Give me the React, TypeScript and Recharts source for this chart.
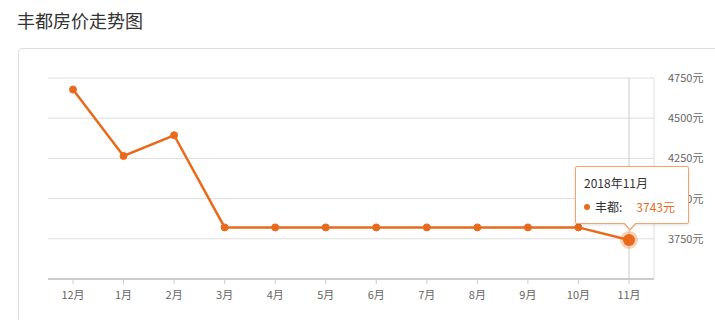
import React from 'react';
import { LineChart, Line, XAxis, YAxis, CartesianGrid, Tooltip } from 'recharts';

const months = ['12月', '1月', '2月', '3月', '4月', '5月', '6月', '7月', '8月', '9月', '10月', '11月'];
const fullLabels = ['2017年12月', '2018年1月', '2018年2月', '2018年3月', '2018年4月', '2018年5月', '2018年6月', '2018年7月', '2018年8月', '2018年9月', '2018年10月', '2018年11月'];
const prices = [4678, 4265, 4394, 3821, 3821, 3821, 3821, 3821, 3821, 3821, 3821, 3743];
const yTicks = [3750, 4000, 4250, 4500, 4750];
const seriesName = '丰都';
const title = '丰都房价走势图';

const data = months.map((m, i) => ({ month: m, full: fullLabels[i], price: prices[i] }));

const ORANGE = '#e96a1c';
const FONT = '"Noto Sans CJK SC", "Noto Sans", sans-serif';

const TipContent = (props: any) => {
  const { payload } = props;
  if (!payload || !payload.length) return null;
  const p = payload[0].payload;
  return (
    <div style={{ position: 'relative', width: 112, height: 56, background: '#fff', border: '1px solid #f0a56e', borderRadius: 2, boxShadow: '0 1px 3px rgba(0,0,0,0.12)', fontFamily: FONT, fontSize: 12, color: '#333', boxSizing: 'content-box' }}>
      <div style={{ position: 'absolute', left: 8, top: 8, lineHeight: '16px' }}>{p.full}</div>
      <div style={{ position: 'absolute', left: 8, top: 32, lineHeight: '16px', display: 'flex', alignItems: 'center' }}>
        <span style={{ display: 'inline-block', width: 6, height: 6, borderRadius: 3, background: ORANGE, marginRight: 5 }} />
        <span>{seriesName}:</span>
        <span style={{ color: ORANGE, marginLeft: 14 }}>{p.price}元</span>
      </div>
      <div style={{ position: 'absolute', left: 47, bottom: -8, width: 0, height: 0, borderLeft: '7px solid transparent', borderRight: '7px solid transparent', borderTop: '8px solid #f0a56e' }} />
      <div style={{ position: 'absolute', left: 48, bottom: -6, width: 0, height: 0, borderLeft: '6px solid transparent', borderRight: '6px solid transparent', borderTop: '7px solid #fff' }} />
    </div>
  );
};

export default function App() {
  return (
    <div style={{ position: 'absolute', left: 0, top: 0, width: 715, height: 320, overflow: 'hidden', background: '#fff' }}>
      <div style={{ position: 'absolute', left: 17, top: 8, fontFamily: FONT, fontSize: 18, color: '#333', lineHeight: '24px' }}>{title}</div>
      <div style={{ position: 'absolute', left: 18, top: 48, width: 740, height: 320, border: '1px solid #dedede', borderRadius: 4 }} />
      <div style={{ position: 'absolute', left: 0, top: 0 }}>
        <LineChart width={715} height={320} data={data} margin={{ top: 78, right: 6, bottom: 11, left: 48 }}>
          <CartesianGrid vertical={false} stroke="#dedede" />
          <XAxis
            dataKey="month"
            padding={{ left: 25, right: 25 }}
            axisLine={{ stroke: '#cccccc', strokeWidth: 2 }}
            tickLine={{ stroke: '#cccccc' }}
            tickSize={5}
            tickMargin={7}
            height={30}
            interval={0}
            tick={{ fill: '#666', fontSize: 11, fontFamily: FONT }}
          />
          <YAxis
            orientation="right"
            domain={[3500, 4750]}
            ticks={yTicks}
            width={55}
            axisLine={{ stroke: '#e0e0e0' }}
            tickLine={false}
            tickMargin={8}
            tickFormatter={(v: number) => `${v}元`}
            tick={{ fill: '#666', fontSize: 11, fontFamily: FONT }}
          />
          <Tooltip
            active
            defaultIndex={11}
            position={{ x: 575, y: 166 }}
            content={<TipContent />}
            cursor={{ stroke: '#cccccc', strokeWidth: 1 }}
            isAnimationActive={false}
            allowEscapeViewBox={{ x: true, y: true }}
            wrapperStyle={{ outline: 'none', zIndex: 10 }}
          />
          <Line
            type="linear"
            dataKey="price"
            stroke={ORANGE}
            strokeWidth={2.5}
            dot={{ r: 3.5, fill: ORANGE, stroke: ORANGE, strokeWidth: 1 }}
            activeDot={{ r: 6, fill: ORANGE, stroke: 'rgba(233,106,28,0.3)', strokeWidth: 6 }}
            isAnimationActive={false}
          />
        </LineChart>
      </div>
    </div>
  );
}
